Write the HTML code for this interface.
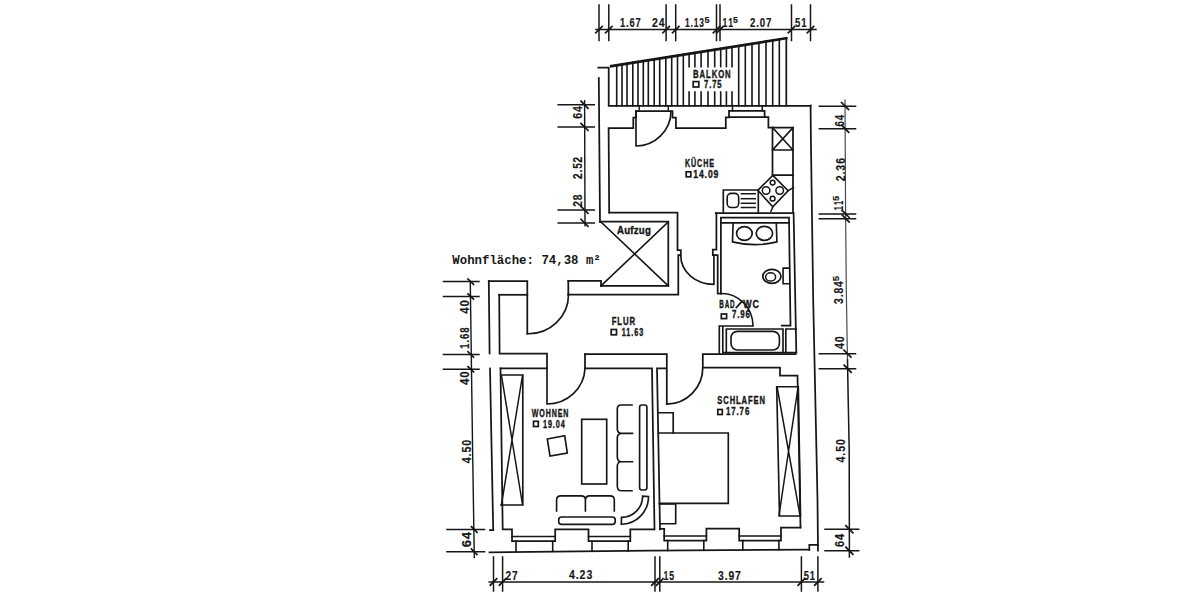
<!DOCTYPE html>
<html><head><meta charset="utf-8"><style>
text{fill:#161616;stroke:#161616;stroke-width:0.15px;}
.lbl{stroke-width:0.4px;}

html,body{margin:0;padding:0;background:#fff;}
svg{display:block;}
</style></head><body>
<svg width="1200" height="600" viewBox="0 0 1200 600">
<rect width="1200" height="600" fill="#fff"/>
<g stroke="#161616" fill="none" stroke-linecap="square" stroke-linejoin="miter">
<path d="M596,29.6 H816" stroke-width="1.5"/>
<line x1="599" y1="5" x2="599" y2="40.5" stroke-width="1.5"/>
<line x1="595.8" y1="32.8" x2="602.2" y2="26.4" stroke-width="1.7"/>
<line x1="608.8" y1="5" x2="608.8" y2="40.5" stroke-width="1.5"/>
<line x1="605.5999999999999" y1="32.8" x2="612.0" y2="26.4" stroke-width="1.7"/>
<line x1="666.1" y1="5" x2="666.1" y2="40.5" stroke-width="1.5"/>
<line x1="662.9" y1="32.8" x2="669.3000000000001" y2="26.4" stroke-width="1.7"/>
<line x1="675.7" y1="5" x2="675.7" y2="40.5" stroke-width="1.5"/>
<line x1="672.5" y1="32.8" x2="678.9000000000001" y2="26.4" stroke-width="1.7"/>
<line x1="716.5" y1="5" x2="716.5" y2="40.5" stroke-width="1.5"/>
<line x1="713.3" y1="32.8" x2="719.7" y2="26.4" stroke-width="1.7"/>
<line x1="720" y1="5" x2="720" y2="40.5" stroke-width="1.5"/>
<line x1="716.8" y1="32.8" x2="723.2" y2="26.4" stroke-width="1.7"/>
<line x1="791.5" y1="5" x2="791.5" y2="40.5" stroke-width="1.5"/>
<line x1="788.3" y1="32.8" x2="794.7" y2="26.4" stroke-width="1.7"/>
<line x1="810.5" y1="5" x2="810.5" y2="40.5" stroke-width="1.5"/>
<line x1="807.3" y1="32.8" x2="813.7" y2="26.4" stroke-width="1.7"/>
<text transform="translate(620,27.2) scale(0.727,1)" x="0" y="0" font-size="12.8" font-weight="bold" font-family="Liberation Sans" textLength="28.63" lengthAdjust="spacing">1.67</text>
<text transform="translate(651.9,27.2) scale(0.822,1)" x="0" y="0" font-size="12.8" font-weight="bold" font-family="Liberation Sans" textLength="15.33" lengthAdjust="spacing">24</text>
<text transform="translate(685,27.2) scale(0.654,1)" x="0" y="0" font-size="12.8" font-weight="bold" font-family="Liberation Sans" textLength="29.04" lengthAdjust="spacing">1.13</text>
<text transform="translate(704.5,22.8) scale(1.100,1)" x="0" y="0" font-size="8.2" font-weight="bold" font-family="Liberation Sans" textLength="4.82" lengthAdjust="spacing">5</text>
<text transform="translate(722.5,27.2) scale(0.674,1)" x="0" y="0" font-size="12.8" font-weight="bold" font-family="Liberation Sans" textLength="15.57" lengthAdjust="spacing">11</text>
<text transform="translate(733,22.8) scale(1.053,1)" x="0" y="0" font-size="8.2" font-weight="bold" font-family="Liberation Sans" textLength="4.56" lengthAdjust="spacing">5</text>
<text transform="translate(750,27.2) scale(0.755,1)" x="0" y="0" font-size="12.8" font-weight="bold" font-family="Liberation Sans" textLength="28.49" lengthAdjust="spacing">2.07</text>
<text transform="translate(795,27.2) scale(0.745,1)" x="0" y="0" font-size="12.8" font-weight="bold" font-family="Liberation Sans" textLength="15.45" lengthAdjust="spacing">51</text>
<line x1="584.6" y1="100.8" x2="585" y2="225.7" stroke-width="1.4"/>
<line x1="558.2" y1="104.8" x2="594.3" y2="104.8" stroke-width="1.5"/>
<line x1="581" y1="101.2" x2="588" y2="108.2" stroke-width="1.7"/>
<line x1="558.2" y1="127" x2="594.3" y2="127" stroke-width="1.5"/>
<line x1="581" y1="123.4" x2="588" y2="130.4" stroke-width="1.7"/>
<line x1="558.2" y1="210" x2="594.3" y2="210" stroke-width="1.5"/>
<line x1="581" y1="206.4" x2="588" y2="213.4" stroke-width="1.7"/>
<line x1="558.2" y1="222.9" x2="594.3" y2="222.9" stroke-width="1.5"/>
<line x1="581" y1="219.3" x2="588" y2="226.3" stroke-width="1.7"/>
<text transform="translate(582.05,118.70) rotate(-90) scale(0.870,1)" x="0" y="0" font-size="12.2" font-weight="bold" font-family="Liberation Sans" textLength="14.61" lengthAdjust="spacing">64</text>
<text transform="translate(582.25,179.00) rotate(-90) scale(0.821,1)" x="0" y="0" font-size="12.2" font-weight="bold" font-family="Liberation Sans" textLength="27.03" lengthAdjust="spacing">2.52</text>
<text transform="translate(582.25,206.80) rotate(-90) scale(0.840,1)" x="0" y="0" font-size="12.2" font-weight="bold" font-family="Liberation Sans" textLength="14.64" lengthAdjust="spacing">28</text>
<path d="M470.3,283 L472.6,450 L474.3,557.5" stroke-width="1.4"/>
<line x1="443.5" y1="281.6" x2="479" y2="281.6" stroke-width="1.5"/>
<line x1="468" y1="279.0" x2="473.5" y2="284.20000000000005" stroke-width="1.7"/>
<line x1="443.5" y1="296.5" x2="479" y2="296.5" stroke-width="1.5"/>
<line x1="468" y1="293.9" x2="473.5" y2="299.1" stroke-width="1.7"/>
<line x1="443.5" y1="354.4" x2="479" y2="354.4" stroke-width="1.5"/>
<line x1="468" y1="351.79999999999995" x2="473.5" y2="357.0" stroke-width="1.7"/>
<line x1="443.5" y1="369.2" x2="479" y2="369.2" stroke-width="1.5"/>
<line x1="468" y1="366.59999999999997" x2="473.5" y2="371.8" stroke-width="1.7"/>
<line x1="447" y1="529.5" x2="484.5" y2="529.5" stroke-width="1.5"/>
<line x1="471.5" y1="526.7" x2="477" y2="532.3" stroke-width="1.7"/>
<line x1="447" y1="551.8" x2="484.5" y2="551.8" stroke-width="1.5"/>
<line x1="471.5" y1="549.0" x2="477" y2="554.5999999999999" stroke-width="1.7"/>
<text transform="translate(468.95,313.70) rotate(-90) scale(0.943,1)" x="0" y="0" font-size="12.2" font-weight="bold" font-family="Liberation Sans" textLength="14.52" lengthAdjust="spacing">40</text>
<text transform="translate(468.95,348.70) rotate(-90) scale(0.779,1)" x="0" y="0" font-size="12.2" font-weight="bold" font-family="Liberation Sans" textLength="27.21" lengthAdjust="spacing">1.68</text>
<text transform="translate(468.95,385.00) rotate(-90) scale(0.951,1)" x="0" y="0" font-size="12.2" font-weight="bold" font-family="Liberation Sans" textLength="14.52" lengthAdjust="spacing">40</text>
<text transform="translate(470.95,463.20) rotate(-90) scale(0.872,1)" x="0" y="0" font-size="12.2" font-weight="bold" font-family="Liberation Sans" textLength="26.84" lengthAdjust="spacing">4.50</text>
<text transform="translate(471.45,547.20) rotate(-90) scale(1.054,1)" x="0" y="0" font-size="12.2" font-weight="bold" font-family="Liberation Sans" textLength="14.42" lengthAdjust="spacing">64</text>
<path d="M845,100 L845.5,200 L846.3,290 L847.5,360" stroke-width="1.2" stroke="#4a4a4a" stroke-dasharray="2.5 1"/>
<path d="M847.5,360 L848.2,400 L849.2,450 L849.4,557" stroke-width="1.5"/>
<line x1="819.3" y1="106.2" x2="855.5" y2="106.2" stroke-width="1.5"/>
<line x1="841.531" y1="102.60000000000001" x2="848.531" y2="109.60000000000001" stroke-width="1.7"/>
<line x1="819.3" y1="128.8" x2="855.5" y2="128.8" stroke-width="1.5"/>
<line x1="841.644" y1="125.20000000000002" x2="848.644" y2="132.20000000000002" stroke-width="1.7"/>
<line x1="819.3" y1="214" x2="855.5" y2="214" stroke-width="1.5"/>
<line x1="842.1244444444444" y1="210.4" x2="849.1244444444444" y2="217.4" stroke-width="1.7"/>
<line x1="819.3" y1="218.7" x2="855.5" y2="218.7" stroke-width="1.5"/>
<line x1="842.1662222222222" y1="215.1" x2="849.1662222222222" y2="222.1" stroke-width="1.7"/>
<line x1="819.3" y1="353.7" x2="855.5" y2="353.7" stroke-width="1.5"/>
<line x1="843.9002727272727" y1="350.09999999999997" x2="850.9002727272727" y2="357.09999999999997" stroke-width="1.7"/>
<line x1="819.3" y1="368.8" x2="855.5" y2="368.8" stroke-width="1.5"/>
<line x1="844.161090909091" y1="365.2" x2="851.161090909091" y2="372.2" stroke-width="1.7"/>
<line x1="825" y1="529.3" x2="858.7" y2="529.3" stroke-width="1.5"/>
<line x1="845.8482242990655" y1="525.6999999999999" x2="852.8482242990655" y2="532.6999999999999" stroke-width="1.7"/>
<line x1="825" y1="550.8" x2="858.7" y2="550.8" stroke-width="1.5"/>
<line x1="845.8884112149533" y1="547.1999999999999" x2="852.8884112149533" y2="554.1999999999999" stroke-width="1.7"/>
<text transform="translate(843.65,126.50) rotate(-90) scale(0.796,1)" x="0" y="0" font-size="12.2" font-weight="bold" font-family="Liberation Sans" textLength="14.70" lengthAdjust="spacing">64</text>
<text transform="translate(844.75,181.30) rotate(-90) scale(0.868,1)" x="0" y="0" font-size="12.2" font-weight="bold" font-family="Liberation Sans" textLength="26.86" lengthAdjust="spacing">2.36</text>
<text transform="translate(843.25,210.20) rotate(-90) scale(0.626,1)" x="0" y="0" font-size="12.2" font-weight="bold" font-family="Liberation Sans" textLength="15.01" lengthAdjust="spacing">11</text>
<text transform="translate(838.60,201.00) rotate(-90) scale(1.100,1)" x="0" y="0" font-size="8.5" font-weight="bold" font-family="Liberation Sans" textLength="5.64" lengthAdjust="spacing">5</text>
<text transform="translate(843.15,304.00) rotate(-90) scale(0.847,1)" x="0" y="0" font-size="12.2" font-weight="bold" font-family="Liberation Sans" textLength="26.93" lengthAdjust="spacing">3.84</text>
<text transform="translate(838.50,281.20) rotate(-90) scale(1.100,1)" x="0" y="0" font-size="8.8" font-weight="bold" font-family="Liberation Sans" textLength="4.91" lengthAdjust="spacing">5</text>
<text transform="translate(844.45,349.00) rotate(-90) scale(0.877,1)" x="0" y="0" font-size="12.2" font-weight="bold" font-family="Liberation Sans" textLength="14.60" lengthAdjust="spacing">40</text>
<text transform="translate(845.45,462.50) rotate(-90) scale(0.868,1)" x="0" y="0" font-size="12.2" font-weight="bold" font-family="Liberation Sans" textLength="26.86" lengthAdjust="spacing">4.50</text>
<text transform="translate(844.45,547.00) rotate(-90) scale(0.906,1)" x="0" y="0" font-size="12.2" font-weight="bold" font-family="Liberation Sans" textLength="14.56" lengthAdjust="spacing">64</text>
<line x1="489.2" y1="582" x2="823.5" y2="582" stroke-width="1.5"/>
<line x1="493.5" y1="557" x2="493.5" y2="591" stroke-width="1.5"/>
<line x1="490.3" y1="585.2" x2="496.7" y2="578.8" stroke-width="1.7"/>
<line x1="502.6" y1="557" x2="502.6" y2="591" stroke-width="1.5"/>
<line x1="499.40000000000003" y1="585.2" x2="505.8" y2="578.8" stroke-width="1.7"/>
<line x1="655" y1="557" x2="655" y2="591" stroke-width="1.5"/>
<line x1="651.8" y1="585.2" x2="658.2" y2="578.8" stroke-width="1.7"/>
<line x1="659.8" y1="557" x2="659.8" y2="591" stroke-width="1.5"/>
<line x1="656.5999999999999" y1="585.2" x2="663.0" y2="578.8" stroke-width="1.7"/>
<line x1="801.4" y1="557" x2="801.4" y2="591" stroke-width="1.5"/>
<line x1="798.1999999999999" y1="585.2" x2="804.6" y2="578.8" stroke-width="1.7"/>
<line x1="817.9" y1="557" x2="817.9" y2="591" stroke-width="1.5"/>
<line x1="814.6999999999999" y1="585.2" x2="821.1" y2="578.8" stroke-width="1.7"/>
<text transform="translate(505.4,579.7) scale(0.794,1)" x="0" y="0" font-size="12.8" font-weight="bold" font-family="Liberation Sans" textLength="15.37" lengthAdjust="spacing">27</text>
<text transform="translate(569,579.2) scale(0.827,1)" x="0" y="0" font-size="12.8" font-weight="bold" font-family="Liberation Sans" textLength="28.18" lengthAdjust="spacing">4.23</text>
<text transform="translate(663.5,579.7) scale(0.688,1)" x="0" y="0" font-size="12.8" font-weight="bold" font-family="Liberation Sans" textLength="15.55" lengthAdjust="spacing">15</text>
<text transform="translate(718,579.7) scale(0.807,1)" x="0" y="0" font-size="12.8" font-weight="bold" font-family="Liberation Sans" textLength="28.26" lengthAdjust="spacing">3.97</text>
<text transform="translate(803.7,579.7) scale(0.730,1)" x="0" y="0" font-size="12.8" font-weight="bold" font-family="Liberation Sans" textLength="15.47" lengthAdjust="spacing">51</text>
<path d="M611.3,66.2 L786.3,38.2" stroke-width="2.7"/>
<path d="M786.3,38.2 V105.8" stroke-width="1.75"/>
<path d="M598.3,67.7 H608.7 V105.8 H810.6" stroke-width="1.75"/>
<line x1="616.7" y1="64.87213675213674" x2="616.7" y2="105.8" stroke-width="1.6"/>
<line x1="622" y1="64.03863247863246" x2="622" y2="105.8" stroke-width="1.6"/>
<line x1="627" y1="63.25230769230768" x2="627" y2="105.8" stroke-width="1.6"/>
<line x1="632.8" y1="62.340170940170935" x2="632.8" y2="105.8" stroke-width="1.6"/>
<line x1="638" y1="61.52239316239315" x2="638" y2="105.8" stroke-width="1.6"/>
<line x1="643.3" y1="60.68888888888889" x2="643.3" y2="105.8" stroke-width="1.6"/>
<line x1="648.3" y1="59.9025641025641" x2="648.3" y2="105.8" stroke-width="1.6"/>
<line x1="654.2" y1="58.97470085470084" x2="654.2" y2="105.8" stroke-width="1.6"/>
<line x1="659.7" y1="58.10974358974357" x2="659.7" y2="105.8" stroke-width="1.6"/>
<line x1="665.8" y1="57.15042735042735" x2="665.8" y2="105.8" stroke-width="1.6"/>
<line x1="671.7" y1="56.222564102564085" x2="671.7" y2="105.8" stroke-width="1.6"/>
<line x1="677.5" y1="55.31042735042734" x2="677.5" y2="105.8" stroke-width="1.6"/>
<line x1="683.3" y1="54.3982905982906" x2="683.3" y2="105.8" stroke-width="1.6"/>
<line x1="689.1" y1="53.48615384615384" x2="689.1" y2="66.6" stroke-width="1.6"/>
<line x1="689.1" y1="92.1" x2="689.1" y2="105.8" stroke-width="1.6"/>
<line x1="694.9" y1="52.57401709401709" x2="694.9" y2="66.6" stroke-width="1.6"/>
<line x1="694.9" y1="92.1" x2="694.9" y2="105.8" stroke-width="1.6"/>
<line x1="701.1" y1="51.598974358974345" x2="701.1" y2="66.6" stroke-width="1.6"/>
<line x1="701.1" y1="92.1" x2="701.1" y2="105.8" stroke-width="1.6"/>
<line x1="708" y1="50.513846153846146" x2="708" y2="66.6" stroke-width="1.6"/>
<line x1="708" y1="92.1" x2="708" y2="105.8" stroke-width="1.6"/>
<line x1="714.7" y1="49.460170940170926" x2="714.7" y2="66.6" stroke-width="1.6"/>
<line x1="714.7" y1="92.1" x2="714.7" y2="105.8" stroke-width="1.6"/>
<line x1="720.7" y1="48.516581196581186" x2="720.7" y2="66.6" stroke-width="1.6"/>
<line x1="720.7" y1="92.1" x2="720.7" y2="105.8" stroke-width="1.6"/>
<line x1="726.4" y1="47.62017094017094" x2="726.4" y2="66.6" stroke-width="1.6"/>
<line x1="726.4" y1="92.1" x2="726.4" y2="105.8" stroke-width="1.6"/>
<line x1="732" y1="46.73948717948717" x2="732" y2="66.6" stroke-width="1.6"/>
<line x1="732" y1="92.1" x2="732" y2="105.8" stroke-width="1.6"/>
<line x1="738.7" y1="45.68581196581195" x2="738.7" y2="105.8" stroke-width="1.6"/>
<line x1="745.3" y1="44.64786324786325" x2="745.3" y2="105.8" stroke-width="1.6"/>
<line x1="752" y1="43.59418803418803" x2="752" y2="105.8" stroke-width="1.6"/>
<line x1="758.9" y1="42.50905982905982" x2="758.9" y2="105.8" stroke-width="1.6"/>
<line x1="766" y1="41.39247863247863" x2="766" y2="105.8" stroke-width="1.6"/>
<line x1="772.7" y1="40.33880341880341" x2="772.7" y2="105.8" stroke-width="1.6"/>
<line x1="779.3" y1="39.3008547008547" x2="779.3" y2="105.8" stroke-width="1.6"/>
<text class="lbl" transform="translate(693.1,77.9) scale(0.708,1)" x="0" y="0" font-size="10.9" font-weight="bold" font-family="Liberation Sans" textLength="52.98" lengthAdjust="spacing">BALKON</text>
<rect x="693.2" y="81.6" width="5.599999999999909" height="5.400000000000006" stroke-width="1.7" fill="none"/>
<text class="lbl" transform="translate(704,88.4) scale(0.702,1)" x="0" y="0" font-size="10.9" font-weight="bold" font-family="Liberation Sans" textLength="25.06" lengthAdjust="spacing">7.75</text>
<path d="M810.6,105.5 L810.9,140 L813.2,300 L817.5,500 L818,550.7" stroke-width="1.75"/>
<path d="M809.3,549.8 V544.8 H818" stroke-width="1.65"/>
<path d="M598.8,78 L600,222" stroke-width="1.75"/>
<path d="M609.2,212.5 L608.6,128.2 H633.3 V117.5 H636 V111.2" stroke-width="1.75"/>
<path d="M636,111.2 H672.5 V117.5 H675.9 V128.2 H725.8 V117.3 H729 V110.8 H764.6 V117 H768.4 V127.6 H793 V212.5" stroke-width="1.75"/>
<path d="M729,117.1 H764.6" stroke-width="1.65"/>
<path d="M732.5,105.8 V110.8 M762.3,105.8 V110.8" stroke-width="1.5"/>
<path d="M639.2,105.8 V110 M668.3,105.8 V110" stroke-width="1.4"/>
<path d="M636,111.5 V146 A35,35 0 0 0 671,111.5" stroke-width="1.65"/>
<path d="M772.5,127.6 V175.2 H793" stroke-width="1.75"/>
<path d="M772.5,150 H793 M772.5,127.6 L793,150 M793,127.6 L772.5,150" stroke-width="1.6"/>
<path d="M772.8,175.4 L788.1,190.7 L772.8,206.8 L757.8,190.3 Z" stroke-width="1.65"/>
<circle cx="772.6" cy="182.6" r="2.4" stroke-width="1.5" fill="none"/>
<circle cx="766.1" cy="190.5" r="3.8" stroke-width="1.5" fill="none"/>
<circle cx="779.7" cy="190.5" r="3.8" stroke-width="1.5" fill="none"/>
<circle cx="772.6" cy="198.7" r="2.4" stroke-width="1.5" fill="none"/>
<path d="M788.1,190.7 L793.5,187.6 M772.8,206.8 L770.9,211.6" stroke-width="1.5"/>
<path d="M723.3,212 V190 H758.3 V212" stroke-width="1.65"/>
<rect x="727.2" y="193.4" width="11.5" height="14.1" rx="4" stroke-width="1.6" fill="none"/>
<line x1="741.4" y1="193.75" x2="755.2" y2="193.75" stroke-width="1.5"/>
<line x1="741.4" y1="198.7" x2="755.2" y2="198.7" stroke-width="1.5"/>
<line x1="741.4" y1="203.3" x2="755.2" y2="203.3" stroke-width="1.5"/>
<line x1="741.4" y1="207.5" x2="755.2" y2="207.5" stroke-width="1.5"/>
<path d="M609.2,212.5 H677.5 V250 H680.8 V255 H678.3 V294.5 H568.3" stroke-width="1.75"/>
<path d="M600,221.7 H668.3 V285.8 H601" stroke-width="1.75"/>
<path d="M601,222 L668.3,285.8 M668.3,222 L601,285.8" stroke-width="1.6"/>
<text class="lbl" transform="translate(617,234) scale(0.913,1)" x="0" y="0" font-size="10.6" font-weight="bold" font-family="Liberation Sans" textLength="37.00" lengthAdjust="spacing">Aufzug</text>
<path d="M713.9,255 V284.3 M680.8,256.1 A33,28.2 0 0 0 713.9,284.3" stroke-width="1.65"/>
<path d="M715.8,213 H793.6 L796.3,352.6" stroke-width="1.75"/>
<path d="M720.9,293.5 V217.6 H789 L790.5,325.5 H781.8" stroke-width="1.75"/>
<path d="M720.8,222.8 H789" stroke-width="1.65"/>
<path d="M716.4,213 V249.6 H712.8 V255 H717.7 V293.5 H721" stroke-width="1.75"/>
<path d="M733.1,223 L732.5,241.9 Q754.7,247.5 776.9,241.9 L776.3,223" stroke-width="1.65" fill="none"/>
<ellipse cx="744.4" cy="233.5" rx="7.8" ry="6.9" stroke-width="1.7" fill="none"/>
<ellipse cx="764.4" cy="233.3" rx="8.2" ry="7" stroke-width="1.7" fill="none"/>
<ellipse cx="771.9" cy="276.3" rx="9.1" ry="7" stroke-width="1.7" fill="none"/>
<ellipse cx="770.6" cy="276.9" rx="5" ry="4.1" stroke-width="1.5" fill="none"/>
<path d="M788.9,268.1 H783.1 V283.8 H788.9" stroke-width="1.6"/>
<path d="M721.5,293.5 A31.5,32.5 0 0 1 753,326" stroke-width="1.65"/>
<path d="M719.3,326 V353 M722.8,326 V352.6 H796.3 M719.3,326 H752" stroke-width="1.65"/>
<path d="M726.3,352.5 V329 H783 V352.5 M785.8,352.5 V329 H796" stroke-width="1.65"/>
<rect x="731" y="331.3" width="48.4" height="18.7" rx="6.5" stroke-width="1.65" fill="none"/>
<text class="lbl" transform="translate(719.2,307.5) scale(0.576,1)" x="0" y="0" font-size="10.9" font-weight="bold" font-family="Liberation Sans" textLength="26.74" lengthAdjust="spacing">BAD</text>
<line x1="736.3" y1="307.5" x2="742.1" y2="301.2" stroke-width="1.8"/>
<text class="lbl" transform="translate(743.3,307.5) scale(0.815,1)" x="0" y="0" font-size="10.9" font-weight="bold" font-family="Liberation Sans" textLength="19.26" lengthAdjust="spacing">WC</text>
<rect x="721.3" y="314" width="5.300000000000068" height="4.600000000000023" stroke-width="1.7" fill="none"/>
<text class="lbl" transform="translate(732,318.4) scale(0.721,1)" x="0" y="0" font-size="10.9" font-weight="bold" font-family="Liberation Sans" textLength="24.96" lengthAdjust="spacing">7.96</text>
<path d="M488.8,281 H527.3 V333.5" stroke-width="1.75"/>
<path d="M527.3,333.7 A40,39 0 0 0 568.5,294.5" stroke-width="1.65"/>
<path d="M568.3,280.8 V294.5" stroke-width="1.75"/>
<path d="M568.3,280.8 H601 V285.8" stroke-width="1.75"/>
<path d="M499.2,294.8 H527.3" stroke-width="1.75"/>
<path d="M488.8,281 L489.6,353.3 M499.2,294.8 L499.6,353.5 H547 V368.3 H500.5" stroke-width="1.75"/>
<text class="lbl" transform="translate(611.7,325) scale(0.709,1)" x="0" y="0" font-size="10.9" font-weight="bold" font-family="Liberation Sans" textLength="32.87" lengthAdjust="spacing">FLUR</text>
<rect x="611.2" y="329.5" width="5.2999999999999545" height="5.300000000000011" stroke-width="1.7" fill="none"/>
<text class="lbl" transform="translate(621.7,336) scale(0.660,1)" x="0" y="0" font-size="10.9" font-weight="bold" font-family="Liberation Sans" textLength="32.73" lengthAdjust="spacing">11.63</text>
<path d="M547,368.3 V404 A38,37 0 0 0 585,368.3" stroke-width="1.65"/>
<path d="M585,354.2 V368.3 H652 L654.5,529.3" stroke-width="1.75"/>
<path d="M585,354.2 H666.8 V404 A36,36.5 0 0 0 702.8,367.5 V354.2 H795.6" stroke-width="1.75"/>
<path d="M660,529.3 L657,368.3 H666" stroke-width="1.75"/>
<path d="M702.8,367.5 H780 V375.5 H797.5 L800.5,527.5" stroke-width="1.75"/>
<path d="M490,368.5 L493.2,530 H490" stroke-width="1.75"/>
<path d="M500.5,368.3 L502.7,529.3 H512 V541.2 H555.2 V529.3 H588.5 V541.2 H630.3 V529.3 H654" stroke-width="1.75"/>
<path d="M512,536.5 H555.2 M588.5,536.5 H630.3" stroke-width="1.6"/>
<path d="M516,541.2 V551.5 M552.7,541.2 V551.3 M592,541.2 V551.2 M628.2,541.2 V551.1" stroke-width="1.6"/>
<path d="M489.5,552.3 L650,550.6 L809.3,549.7" stroke-width="1.75"/>
<path d="M501,375 H522.8 V505 H501" stroke-width="1.65"/>
<path d="M501.5,375.5 L522.5,504.5 M522.5,375.5 L501.5,504.5" stroke-width="1.5"/>
<path d="M547.3,439 L564.7,435.8 L567.3,453 L550,456 Z" stroke-width="1.65"/>
<rect x="581.7" y="419.3" width="25" height="64.7" stroke-width="1.65" fill="none"/>
<path d="M632,405 H621 Q617.3,405 617.3,409 V429 Q617.3,433.3 621.5,433.3 H632.5 M621.5,433.3 Q617.3,433.3 617.3,438 V457 Q617.3,461.7 621.5,461.7 H632.5 M621.5,461.7 Q617.3,461.7 617.3,466 V486 Q617.3,490.7 621.5,490.7 H632" stroke-width="1.65"/>
<rect x="639.6" y="405" width="7.3" height="85" rx="2.2" stroke-width="1.65" fill="none"/>
<path d="M556.6,511 V500 Q556.6,495.9 561,495.9 H581 Q585.4,495.9 585.4,500 V511 M585.4,500 Q585.4,495.9 589.5,495.9 H610 Q614.3,495.9 614.3,500 V511" stroke-width="1.65"/>
<rect x="558.7" y="517" width="56.5" height="7.4" rx="2.8" stroke-width="1.65" fill="none"/>
<path d="M621.3,524.2 A27.2,27.7 0 0 0 648.5,496.5 L642.6,496.2 A21.3,21.2 0 0 1 621.5,517.4 Z" stroke-width="1.65"/>
<text class="lbl" transform="translate(531.7,416.5) scale(0.647,1)" x="0" y="0" font-size="10.9" font-weight="bold" font-family="Liberation Sans" textLength="56.61" lengthAdjust="spacing">WOHNEN</text>
<rect x="533.5" y="421.3" width="4.7999999999999545" height="5.199999999999989" stroke-width="1.7" fill="none"/>
<text class="lbl" transform="translate(543,427.5) scale(0.664,1)" x="0" y="0" font-size="10.9" font-weight="bold" font-family="Liberation Sans" textLength="32.70" lengthAdjust="spacing">19.04</text>
<path d="M660,528.8 H664.2 V540.5 H706.4 V528.5 H739.2 V540.5 H781 V527.5 H800.5" stroke-width="1.75"/>
<path d="M664.2,536 H706.4 M739.2,536 H781" stroke-width="1.6"/>
<path d="M667.7,540.5 V550.4 M703.8,540.5 V550.3 M742.8,540.5 V550 M778.9,540.5 V549.8" stroke-width="1.6"/>
<path d="M776.7,386.7 H798.3 L800.5,516 H779.5 Z" stroke-width="1.65"/>
<path d="M777.2,387.5 L800,515.5 M798,387.5 L779,515.5" stroke-width="1.5"/>
<path d="M658.5,433 H728.3 V503.3 H659.5" stroke-width="1.65"/>
<path d="M658,412.7 H673.2 V433 M659.5,503.8 H675.7 V523.7 H660" stroke-width="1.65"/>
<text class="lbl" transform="translate(717.3,404) scale(0.698,1)" x="0" y="0" font-size="10.9" font-weight="bold" font-family="Liberation Sans" textLength="68.37" lengthAdjust="spacing">SCHLAFEN</text>
<rect x="717.8" y="409.5" width="4.5" height="5.0" stroke-width="1.7" fill="none"/>
<text class="lbl" transform="translate(726,415) scale(0.722,1)" x="0" y="0" font-size="10.9" font-weight="bold" font-family="Liberation Sans" textLength="32.26" lengthAdjust="spacing">17.76</text>
<text class="lbl" transform="translate(685,166.7) scale(0.655,1)" x="0" y="0" font-size="10.9" font-weight="bold" font-family="Liberation Sans" textLength="44.25" lengthAdjust="spacing">KÜCHE</text>
<rect x="686.2" y="171.8" width="4.599999999999909" height="5.0" stroke-width="1.7" fill="none"/>
<text class="lbl" transform="translate(693.3,178.3) scale(0.785,1)" x="0" y="0" font-size="10.9" font-weight="bold" font-family="Liberation Sans" textLength="31.87" lengthAdjust="spacing">14.09</text>
<text x="452.3" y="264" font-size="12.4" font-family="Liberation Mono" font-weight="bold" style="stroke:none" textLength="148.5" lengthAdjust="spacingAndGlyphs">Wohnfläche: 74,38 m²</text>
</g>
</svg>
</body></html>
